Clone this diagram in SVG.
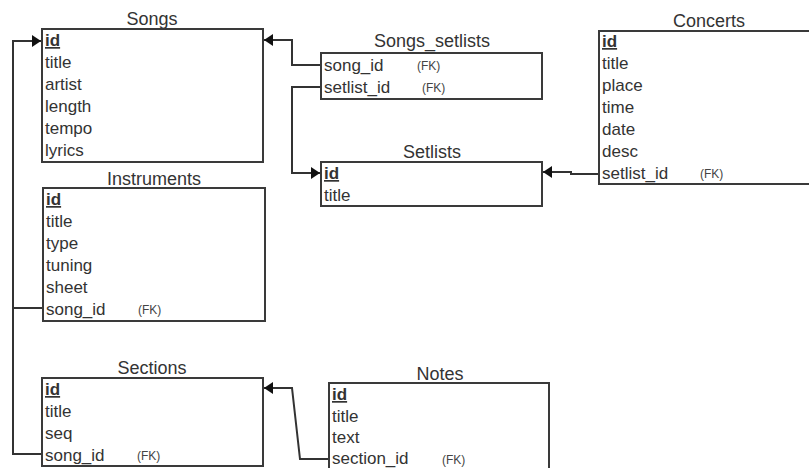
<svg xmlns="http://www.w3.org/2000/svg" width="809" height="468" viewBox="0 0 809 468">
<style>
.box{fill:#fff;stroke:#3a3a3a;stroke-width:2}
.ttl{font-family:"Liberation Sans",Arial,sans-serif;font-size:18px;fill:#333;text-anchor:middle}
.row{font-family:"Liberation Sans",Arial,sans-serif;font-size:17px;fill:#333}
.fk{font-family:"Liberation Sans",Arial,sans-serif;font-size:12px;fill:#444}
.pk{text-decoration:underline;font-weight:bold}
.conn{fill:none;stroke:#333;stroke-width:2}
</style>
<defs>
<marker id="arr" markerUnits="userSpaceOnUse" markerWidth="10" markerHeight="12" refX="9" refY="6" orient="auto">
<path d="M0,0 L9,6 L0,12 z" fill="#111"/>
</marker>
</defs>
<rect width="809" height="468" fill="#fff"/>
<g id="connectors">
<path class="conn" d="M321,65 H292 V40 H264" marker-end="url(#arr)"/>
<path class="conn" d="M321,87 H292 V173 H320" marker-end="url(#arr)"/>
<path class="conn" d="M599,174 H571 V172 H543" marker-end="url(#arr)"/>
<path class="conn" d="M43,308 H13 V41 H41" marker-end="url(#arr)"/>
<path class="conn" d="M42,454 H13 V300"/>
<path class="conn" d="M329,459 H300 L292,388 H264" marker-end="url(#arr)"/>
</g>
<g id="songs">
<text class="ttl" x="152" y="25">Songs</text>
<rect class="box" x="42" y="29" width="221" height="133"/>
<text class="row pk" x="45" y="46">id</text>
<text class="row" x="45" y="68">title</text>
<text class="row" x="45" y="90">artist</text>
<text class="row" x="45" y="112">length</text>
<text class="row" x="45" y="134">tempo</text>
<text class="row" x="45" y="156">lyrics</text>
</g>
<g id="songs_setlists">
<text class="ttl" x="432" y="47">Songs_setlists</text>
<rect class="box" x="321" y="53" width="221" height="46"/>
<text class="row" x="324" y="71">song_id</text>
<text class="fk" x="417" y="70">(FK)</text>
<text class="row" x="324" y="93">setlist_id</text>
<text class="fk" x="422" y="92">(FK)</text>
</g>
<g id="setlists">
<text class="ttl" x="432" y="158">Setlists</text>
<rect class="box" x="321" y="162" width="221" height="44"/>
<text class="row pk" x="324" y="179">id</text>
<text class="row" x="324" y="201">title</text>
</g>
<g id="concerts">
<text class="ttl" x="709" y="27">Concerts</text>
<rect class="box" x="599" y="31" width="220" height="153"/>
<text class="row pk" x="602" y="47">id</text>
<text class="row" x="602" y="69">title</text>
<text class="row" x="602" y="91">place</text>
<text class="row" x="602" y="113">time</text>
<text class="row" x="602" y="135">date</text>
<text class="row" x="602" y="157">desc</text>
<text class="row" x="602" y="179">setlist_id</text>
<text class="fk" x="700" y="178">(FK)</text>
</g>
<g id="instruments">
<text class="ttl" x="154" y="185">Instruments</text>
<rect class="box" x="43" y="188" width="222" height="133"/>
<text class="row pk" x="46" y="205">id</text>
<text class="row" x="46" y="227">title</text>
<text class="row" x="46" y="249">type</text>
<text class="row" x="46" y="271">tuning</text>
<text class="row" x="46" y="293">sheet</text>
<text class="row" x="46" y="315">song_id</text>
<text class="fk" x="138" y="314">(FK)</text>
</g>
<g id="sections">
<text class="ttl" x="152" y="374">Sections</text>
<rect class="box" x="42" y="378" width="221" height="88"/>
<text class="row pk" x="45" y="395">id</text>
<text class="row" x="45" y="417">title</text>
<text class="row" x="45" y="439">seq</text>
<text class="row" x="45" y="461">song_id</text>
<text class="fk" x="137" y="460">(FK)</text>
</g>
<g id="notes">
<text class="ttl" x="440" y="380">Notes</text>
<rect class="box" x="329" y="383" width="220" height="95"/>
<text class="row pk" x="332" y="400">id</text>
<text class="row" x="332" y="422">title</text>
<text class="row" x="332" y="443">text</text>
<text class="row" x="332" y="464">section_id</text>
<text class="fk" x="442" y="464">(FK)</text>
</g>
</svg>
